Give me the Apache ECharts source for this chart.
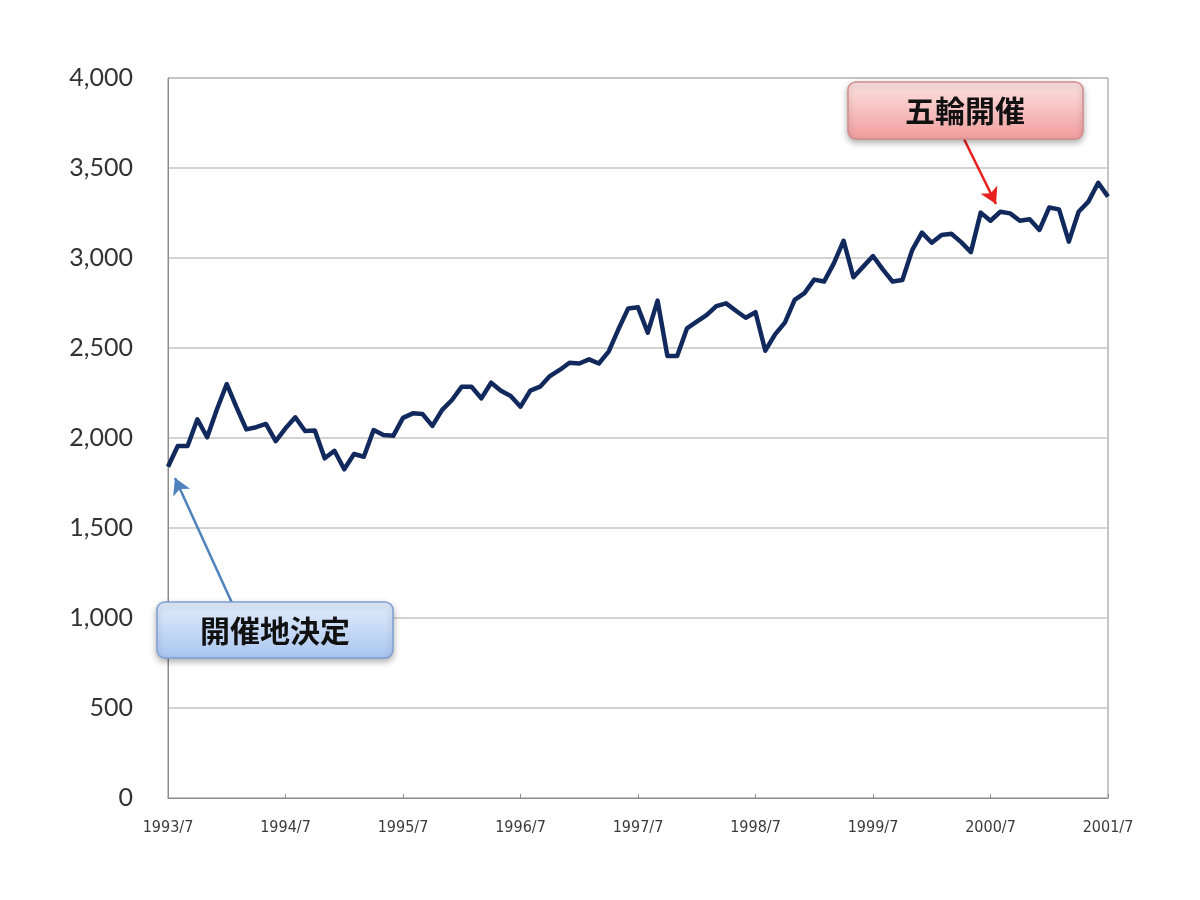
<!DOCTYPE html>
<html>
<head>
<meta charset="utf-8">
<script src="https://cdn.jsdelivr.net/npm/echarts@6/dist/echarts.min.js"></script>
<style>
  html, body { margin: 0; padding: 0; background: #fff; }
  #chart { width: 1200px; height: 900px; }
</style>
</head>
<body>
<div id="chart"></div>
<script>
// monthly values, 1993/7 .. 2001/7
const values = [
  1840, 1956, 1956, 2104, 2004, 2160, 2300, 2170, 2048, 2060, 2078, 1983,
  2054, 2115, 2039, 2041, 1887, 1929, 1826, 1911, 1896, 2044, 2017, 2012,
  2112, 2137, 2133, 2067, 2156, 2211, 2285, 2285, 2220, 2307, 2263, 2233,
  2174, 2263, 2285, 2344, 2378, 2418, 2414, 2437, 2414, 2480, 2604, 2720,
  2726, 2585, 2763, 2456, 2456, 2609, 2646, 2683, 2733, 2748, 2707, 2668,
  2699, 2485, 2576, 2641, 2767, 2805, 2880, 2869, 2970, 3096, 2893, 2952,
  3011, 2937, 2869, 2878, 3044, 3141, 3085, 3128, 3135, 3088, 3033, 3252,
  3207, 3257, 3248, 3207, 3215, 3156, 3281, 3270, 3091, 3257, 3313, 3418,
  3341
];

const startYear = 1993;
const startMonth = 7;
const months = [];
for (let i = 0; i < values.length; i++) {
  const m = startMonth - 1 + i;
  months.push((startYear + Math.floor(m / 12)) + '/' + (m % 12 + 1));
}

const yTicks = [0, 500, 1000, 1500, 2000, 2500, 3000, 3500, 4000];

const chart = echarts.init(document.getElementById('chart'));

const option = {
  backgroundColor: '#fff',
  animation: false,
  grid: {
    left: 168, right: 92, top: 78, bottom: 102,
    show: true, borderColor: '#8c8c8c', borderWidth: 1
  },
  xAxis: {
    type: 'category',
    data: months,
    boundaryGap: false,
    axisLine: { lineStyle: { color: '#8c8c8c', width: 1 } },
    axisTick: { inside: true, length: 4, interval: 11, lineStyle: { color: '#8c8c8c' } },
    axisLabel: {
      interval: 11,
      margin: 22,
      fontFamily: 'DejaVu Sans Condensed, DejaVu Sans',
      fontSize: 16,
      color: '#3a3a3a'
    },
    splitLine: { show: false }
  },
  yAxis: {
    type: 'value',
    min: yTicks[0],
    max: yTicks[yTicks.length - 1],
    interval: 500,
    axisLine: { show: true, lineStyle: { color: '#8c8c8c' } },
    axisTick: { show: false },
    axisLabel: {
      margin: 35,
      fontFamily: 'Lato, Open Sans, sans-serif',
      fontSize: 25,
      color: '#333',
      formatter: v => v.toLocaleString('en-US')
    },
    splitLine: { lineStyle: { color: '#c4c4c4', width: 1.5 } }
  },
  series: [{
    type: 'line',
    data: values,
    symbol: 'none',
    lineStyle: { color: '#11295c', width: 4.5, join: 'round' },
    markLine: {
      silent: true,
      symbol: ['none', 'arrow'],
      symbolSize: [14, 16],
      label: { show: false },
      data: [
        [
          { x: 232, y: 603, lineStyle: { color: '#4f81bd', width: 2.5, type: 'solid' } },
          { x: 175, y: 478 }
        ],
        [
          { x: 964, y: 139, lineStyle: { color: '#e8201c', width: 2.5, type: 'solid' } },
          { x: 996, y: 204 }
        ]
      ]
    }
  }],
  graphic: [
    {
      type: 'rect',
      shape: { x: 157, y: 602, width: 236, height: 56, r: 8 },
      style: {
        fill: new echarts.graphic.LinearGradient(0, 0, 0, 1, [
          { offset: 0, color: '#e4eefc' },
          { offset: 1, color: '#a8c5ef' }
        ]),
        stroke: '#7f9fd3',
        lineWidth: 1.5,
        shadowBlur: 6,
        shadowOffsetY: 3,
        shadowColor: 'rgba(0,0,0,0.3)'
      },
      z: 100
    },
    {
      type: 'text',
      x: 275, y: 631,
      style: {
        text: '開催地決定',
        font: 'bold 30px "Noto Sans CJK JP"',
        fill: '#111',
        align: 'center',
        verticalAlign: 'middle'
      },
      z: 101
    },
    {
      type: 'rect',
      shape: { x: 848, y: 82, width: 235, height: 57, r: 8 },
      style: {
        fill: new echarts.graphic.LinearGradient(0, 0, 0, 1, [
          { offset: 0, color: '#fde4e4' },
          { offset: 1, color: '#f19c9c' }
        ]),
        stroke: '#d38a8a',
        lineWidth: 1.5,
        shadowBlur: 6,
        shadowOffsetY: 3,
        shadowColor: 'rgba(0,0,0,0.3)'
      },
      z: 100
    },
    {
      type: 'text',
      x: 965, y: 111,
      style: {
        text: '五輪開催',
        font: 'bold 30px "Noto Sans CJK JP"',
        fill: '#111',
        align: 'center',
        verticalAlign: 'middle'
      },
      z: 101
    }
  ]
};

chart.setOption(option);
</script>
</body>
</html>
